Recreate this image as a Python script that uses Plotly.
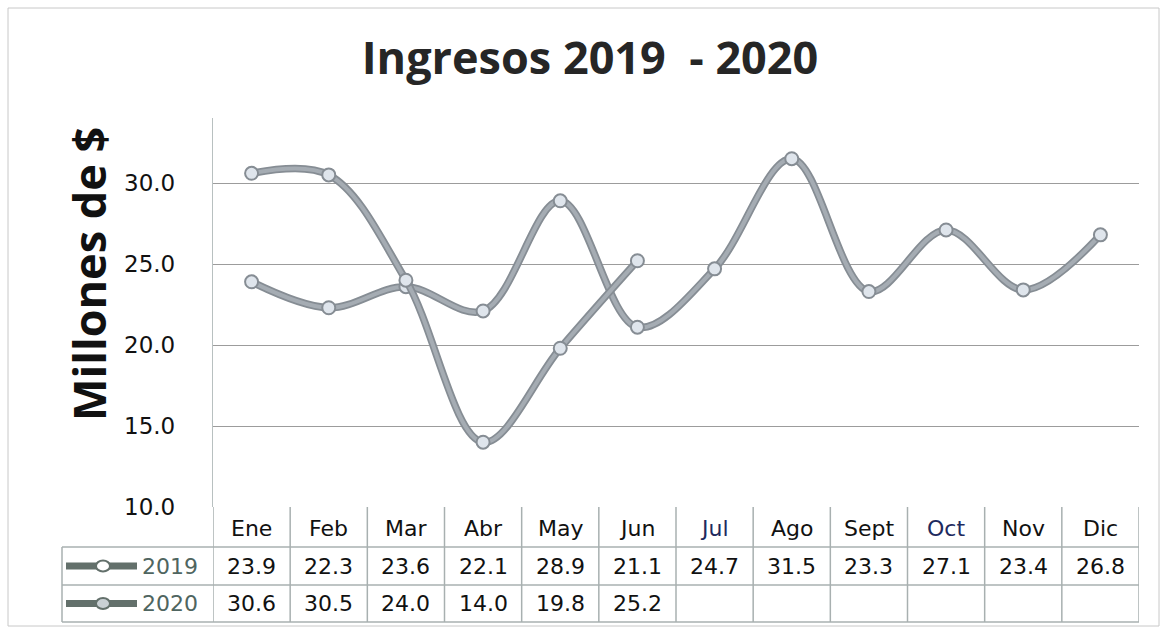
import plotly.graph_objects as go

months = ["Ene", "Feb", "Mar", "Abr", "May", "Jun", "Jul", "Ago", "Sept", "Oct", "Nov", "Dic"]
month_colors = ["#111111"] * 6 + ["#1e2a5e", "#111111", "#111111", "#1e2a5e", "#111111", "#111111"]
ingresos_2019 = [23.9, 22.3, 23.6, 22.1, 28.9, 21.1, 24.7, 31.5, 23.3, 27.1, 23.4, 26.8]
ingresos_2020 = [30.6, 30.5, 24.0, 14.0, 19.8, 25.2]
series_names = ["2019", "2020"]
y_ticks = [10, 15, 20, 25, 30]

W, H = 1162, 629
def px(x):
    return x / W
def py(y):
    return 1 - y / H

x_idx = list(range(len(months)))
LINE_DARK = "#868d94"
LINE_LIGHT = "#a5acb3"
MARK_FILL = "#dfe5ec"
MARK_LINE = "#868d94"

fig = go.Figure()
for vals in (ingresos_2019, ingresos_2020):
    xs = x_idx[:len(vals)]
    fig.add_trace(go.Scatter(x=xs, y=vals, mode="lines",
                             line=dict(color=LINE_DARK, width=7.5, shape="spline", smoothing=1.0),
                             hoverinfo="skip", showlegend=False))
    fig.add_trace(go.Scatter(x=xs, y=vals, mode="lines+markers",
                             line=dict(color=LINE_LIGHT, width=4, shape="spline", smoothing=1.0),
                             marker=dict(size=13, color=MARK_FILL, line=dict(color=MARK_LINE, width=2)),
                             showlegend=False))

GRID = "#9c9c9c"
BORDER = "#a8b0b0"

# table geometry (pixels)
top_tab, r1, r2, bot_tab = 507, 547, 585, 622
leg_left = 62

shapes = []
# outer chart frame
shapes.append(dict(type="rect", xref="paper", yref="paper", x0=px(8), x1=px(1159), y0=py(626), y1=py(8),
                   line=dict(color="#c8c8c8", width=1), layer="below"))
# horizontal table lines
for yy in (r1, r2, bot_tab):
    shapes.append(dict(type="line", xref="paper", yref="paper", x0=px(leg_left), x1=px(1139),
                       y0=py(yy), y1=py(yy), line=dict(color=BORDER, width=1.5)))
# vertical lines at column boundaries
for i in range(len(months) + 1):
    shapes.append(dict(type="line", xref="x", yref="paper", x0=i - 0.5, x1=i - 0.5,
                       y0=py(top_tab), y1=py(bot_tab), line=dict(color=BORDER, width=1.5)))
# legend cell left edge
shapes.append(dict(type="line", xref="paper", yref="paper", x0=px(leg_left), x1=px(leg_left),
                   y0=py(r1), y1=py(bot_tab), line=dict(color=BORDER, width=1.5)))

# legend glyphs
row_centers = [(r1 + r2) / 2, (r2 + bot_tab) / 2]
for k, yc in enumerate(row_centers):
    shapes.append(dict(type="line", xref="paper", yref="paper", x0=px(66), x1=px(137),
                       y0=py(yc), y1=py(yc), line=dict(color="#63706b", width=7)))
    shapes.append(dict(type="circle", xref="paper", yref="paper", x0=px(96), x1=px(110),
                       y0=py(yc + 5.5), y1=py(yc - 5.5),
                       fillcolor="white" if k == 0 else "#c9d0d4",
                       line=dict(color="#63706b", width=2)))

annotations = []
TFONT = "DejaVu Sans"
# header
for i, (m, c) in enumerate(zip(months, month_colors)):
    annotations.append(dict(x=i, y=py((top_tab + r1) / 2 + 1), xref="x", yref="paper", text=m,
                            showarrow=False, font=dict(family=TFONT, size=22, color=c),
                            xanchor="center", yanchor="middle"))
# values
for vals, yc in zip((ingresos_2019, ingresos_2020), row_centers):
    for i, v in enumerate(vals):
        annotations.append(dict(x=i, y=py(yc), xref="x", yref="paper", text=f"{v:.1f}",
                                showarrow=False, font=dict(family=TFONT, size=22, color="#111111"),
                                xanchor="center", yanchor="middle"))
# series names
for name, yc in zip(series_names, row_centers):
    annotations.append(dict(x=px(140), y=py(yc), xref="paper", yref="paper", text=name,
                            showarrow=False, font=dict(family=TFONT, size=22, color="#4f6560"),
                            xanchor="left", yanchor="middle"))
# y-axis title
annotations.append(dict(x=px(88), y=py(274), xref="paper", yref="paper", text="<b>Millones de $</b>",
                        textangle=-90, showarrow=False,
                        font=dict(family="Open Sans", size=45, color="#111111"),
                        xanchor="center", yanchor="middle"))

fig.update_layout(
    width=W, height=H,
    margin=dict(l=0, r=0, t=0, b=0, autoexpand=False),
    paper_bgcolor="white", plot_bgcolor="white",
    title=dict(text="<b>Ingresos 2019  - 2020</b>", x=px(590), y=py(58), xanchor="center", yanchor="middle",
               font=dict(family="Open Sans", size=45, color="#262626")),
    xaxis=dict(domain=[px(213), px(1139)], range=[-0.5, len(months) - 0.5], showticklabels=False,
               showgrid=False, zeroline=False, fixedrange=True, automargin=False),
    yaxis=dict(domain=[py(507), py(118.2)], range=[10, 34], tickvals=y_ticks, tickformat=".1f",
               showgrid=True, gridcolor=GRID, gridwidth=1.3, zeroline=False,
               showline=True, linecolor="#b8c0c0", linewidth=1.3,
               ticklabelstandoff=32, automargin=False,
               tickfont=dict(family=TFONT, size=23, color="#111111")),
    shapes=shapes,
    annotations=annotations,
)

fig.write_html("out.html", config={"displayModeBar": False},
               post_script="document.body.style.margin='0';document.body.style.overflow='hidden';")
